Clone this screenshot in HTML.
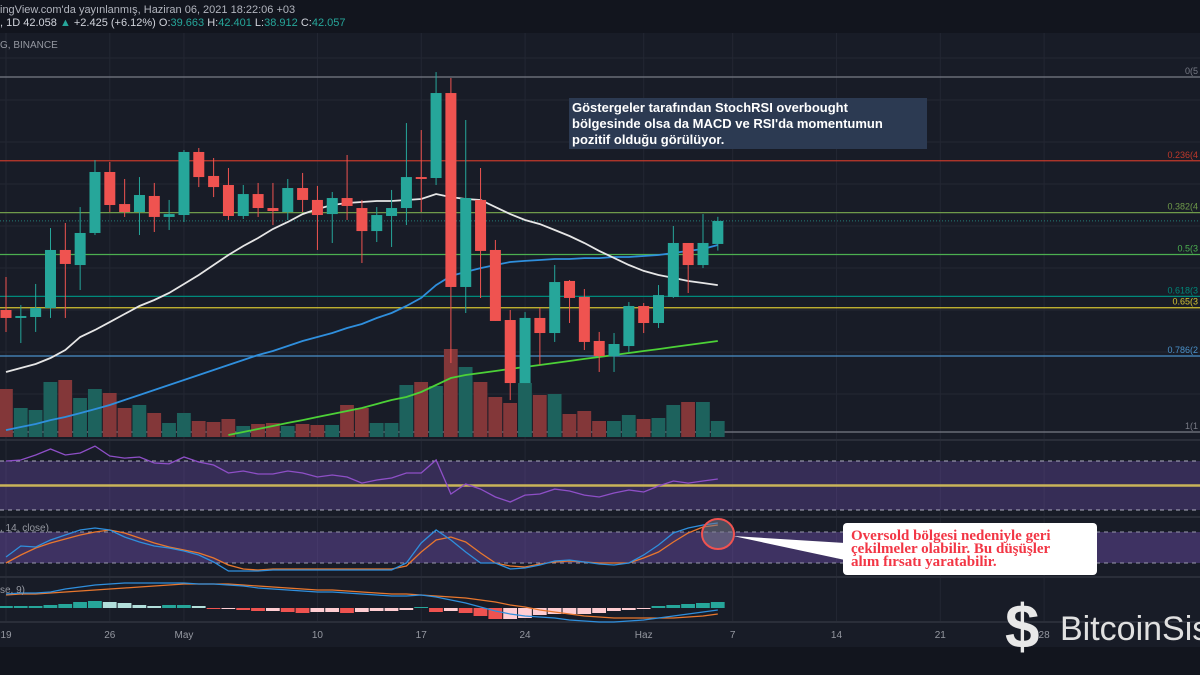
<!DOCTYPE html>
<html><head><meta charset="utf-8"><style>
html,body{margin:0;padding:0;background:#181c27;width:1200px;height:675px;overflow:hidden}
svg{display:block;font-family:"Liberation Sans",sans-serif}
</style></head><body>
<svg id="c" width="1200" height="675" viewBox="0 0 1200 675">
<rect x="0" y="0" width="1200" height="675" fill="#181c27"/>
<rect x="0" y="0" width="1200" height="33" fill="#12151e"/>
<rect x="0" y="647" width="1200" height="28" fill="#12151e"/>
<g id="grid"></g>
<g id="panels"></g>
<g id="fib"></g>
<g id="vol"></g>
<g id="ma"></g>
<g id="candles"></g>
<g id="ind"></g>
<g id="dates"></g>
<text x="0" y="13" fill="#b2b5be" font-size="11">ingView.com'da yayınlanmış, Haziran 06, 2021 18:22:06 +03</text>
<text x="0" y="26" fill="#d1d4dc" font-size="11">, 1D 42.058 <tspan fill="#26a69a">▲</tspan> +2.425 (+6.12%) O:<tspan fill="#26a69a">39.663</tspan> H:<tspan fill="#26a69a">42.401</tspan> L:<tspan fill="#26a69a">38.912</tspan> C:<tspan fill="#26a69a">42.057</tspan></text>
<text x="0" y="48" fill="#9598a1" font-size="10">G, BINANCE</text>
<text x="0" y="531" fill="#9598a1" font-size="10">, 14, close)</text>
<text x="0" y="593" fill="#9598a1" font-size="10">se, 9)</text>
<rect x="569" y="98" width="358" height="51" fill="#2c3a52"/>
<text fill="#ffffff" font-size="13" font-weight="bold"><tspan x="572" y="112">Göstergeler tarafından StochRSI overbought</tspan><tspan x="572" y="128">bölgesinde olsa da MACD ve RSI'da momentumun</tspan><tspan x="572" y="144">pozitif olduğu görülüyor.</tspan></text>
<polygon points="733,536 845,543 845,560" fill="#ffffff"/>
<ellipse cx="718" cy="534" rx="16" ry="15" fill="rgba(120,120,140,0.55)" stroke="#f05350" stroke-width="2"/>
<rect x="843" y="523" width="254" height="52" rx="4" fill="#ffffff"/>
<text fill="#f23645" font-size="15" font-weight="bold" font-family="Liberation Serif, serif"><tspan x="851" y="540">Oversold bölgesi nedeniyle geri</tspan><tspan x="851" y="553">çekilmeler olabilir. Bu düşüşler</tspan><tspan x="851" y="566">alım fırsatı yaratabilir.</tspan></text>
<g>
<text x="1005" y="648" fill="#e8e8e8" font-size="62" font-weight="bold">$</text>
<text x="1060" y="640" fill="#e0e0e0" font-size="34">BitcoinSis</text>
</g>
</svg>
<script>
const open_=[34.67,34.01,34.09,34.84,39.65,38.40,41.06,46.12,43.46,42.80,44.13,42.39,42.55,47.78,45.79,45.04,42.47,44.29,43.13,42.80,44.79,43.80,42.63,43.96,43.13,41.22,42.47,43.13,45.70,45.62,52.67,36.58,43.80,39.65,33.84,28.61,34.01,32.76,37.08,35.75,32.10,30.85,31.68,35.00,33.59,35.75,40.23,38.40,40.15];
const high_=[37.41,35.08,36.83,41.47,41.89,43.21,47.11,46.95,45.54,45.70,45.21,43.80,47.94,48.11,47.28,46.45,45.04,45.21,45.21,45.54,46.04,44.96,44.46,47.53,43.80,43.21,44.63,50.18,49.60,54.41,53.92,50.43,46.45,40.48,34.67,34.50,34.84,38.40,37.16,36.41,32.85,32.76,35.33,35.25,36.74,41.64,40.23,42.63,42.40];
const low_=[32.85,31.93,32.85,34.01,34.01,36.33,40.89,42.80,42.39,40.89,41.14,41.31,41.97,44.87,44.04,42.14,42.22,42.39,41.72,42.14,42.80,39.65,40.23,42.14,38.57,40.31,39.90,41.72,42.80,45.04,30.27,34.42,35.67,33.76,27.20,28.61,30.11,32.02,33.59,31.35,29.53,29.53,31.19,32.76,33.18,35.67,36.08,38.15,39.60];
const close_=[34.01,34.17,34.84,39.65,38.49,41.06,46.12,43.38,42.80,44.21,42.39,42.63,47.78,45.70,44.87,42.47,44.29,43.13,42.88,44.79,43.80,42.55,43.96,43.30,41.22,42.55,43.13,45.70,45.54,52.67,36.58,43.96,39.57,33.76,28.61,34.01,32.76,36.99,35.67,32.02,30.85,31.85,35.00,33.59,35.91,40.23,38.40,40.23,42.06];
const volume=[48,29,27,55,57,39,48,44,29,32,24,14,24,16,15,18,11,13,14,11,13,12,12,32,29,14,14,52,55,51,88,70,55,40,34,54,42,43,23,26,16,16,22,18,19,32,35,35,16];
const ma20=[29.53,29.86,30.19,30.69,31.35,32.43,33.01,33.67,34.34,35.00,35.50,36.08,36.83,37.57,38.40,39.23,39.98,40.64,41.39,41.97,42.63,43.05,43.38,43.55,43.63,43.71,43.71,43.80,43.88,44.29,44.04,43.88,43.80,43.21,42.63,42.14,41.80,41.31,40.81,40.23,39.57,38.99,38.40,37.91,37.57,37.33,37.08,36.91,36.74];
const ma50=[24.71,24.96,25.21,25.54,25.79,26.12,26.45,26.79,27.20,27.62,28.03,28.45,28.86,29.28,29.69,30.11,30.52,30.94,31.27,31.68,32.10,32.43,32.76,33.18,33.51,34.01,34.42,35.00,35.67,36.74,37.49,37.83,38.15,38.40,38.65,38.74,38.82,38.90,38.90,38.98,38.98,39.07,39.07,39.15,39.23,39.40,39.57,39.73,40.06];
const ma200=[null,null,null,null,null,null,null,null,null,null,null,null,null,null,null,24.30,24.55,24.80,25.05,25.30,25.54,25.79,26.04,26.29,26.54,26.87,27.20,27.45,27.87,28.45,29.03,29.28,29.44,29.61,29.78,29.94,30.11,30.27,30.44,30.61,30.77,30.94,31.10,31.27,31.43,31.60,31.77,31.93,32.10];
const rsi=[70,70.8,74.9,79.8,74.9,76.5,82.2,74.1,72.4,73.3,68.4,67.6,73.3,69.2,66.7,60.2,61.8,59.4,59.4,61.8,60.2,56.9,58.6,56.9,52.0,54.5,56.1,60.2,60.2,70.8,43.1,51.2,47.1,40.6,36.5,42.2,43.1,47.1,45.5,42.2,40.6,43.9,46.3,44.7,49.6,53.7,52.0,53.7,55.3];
const stochK=[31.6,52.9,51,64.5,74.2,83.9,87.7,83.9,70.3,60.7,52.9,49.1,43.3,35.5,22,4.6,4.6,4.6,6.5,6.5,6.5,6.5,6.5,6.5,6.5,6.5,6.5,20,58.7,83.9,64.5,41.3,20,20,8.4,10.4,16.2,23.9,25.8,22,18.1,16.2,20,35.5,54.9,78.1,87.7,93.5,97.4];
const stochD=[20,35.5,49.1,58.7,66.5,74.2,80,83.9,78.1,68.4,58.7,51,45.2,39.4,29.7,16.2,8.4,6.5,8.4,8.4,8.4,8.4,8.4,8.4,8.4,8.4,8.4,14.2,41.3,64.5,70.3,60.7,39.4,20,14.2,12.3,18.1,22,23.9,22,20,20,20,29.7,41.3,60.7,78.1,89.7,93.5];
const macdLine=[14,15,15,16,19,21,23,24,25,25,25,25,25,24,24,23,22,20,19,18,17,16,16,15,14,13,12,12,13,11,8,5,1,-3,-6,-8,-9,-10,-12,-13,-14,-14,-13,-12,-10,-8,-6,-4,-2];
const signalLine=[13,14,14,15,16,17,18,19,20,21,22,23,24,24,24,24,23,22,21,20,19,18,18,17,16,15,14,14,13,12,11,10,8,6,3,1,-2,-4,-6,-8,-9,-10,-10,-10,-10,-10,-9,-8,-6];
const macdHist=[2,2,2,3,4,6,7,6,5,3,2,3,3,2,-1,-1,-2,-3,-3,-4,-5,-4,-4,-5,-4,-3,-3,-2,1,-4,-3,-5,-8,-11,-11,-10,-7,-6,-6,-6,-5,-3,-2,-1,2,3,4,5,6];
const fibLevels=[0,0.236,0.382,0.5,0.618,0.65,0.786,1];
const fibLabels=["0(5","0.236(4","0.382(4","0.5(3","0.618(3","0.65(3","0.786(2","1(1"];
const dateIdx=[0,7,12,21,28,35,43,49,56,63,70];
const dateLabels=["19","26","May","10","17","24","Haz","7","14","21","28"];

const NS="http://www.w3.org/2000/svg";
function mk(tag,attrs,parent){const e=document.createElementNS(NS,tag);for(const k in attrs)e.setAttribute(k,attrs[k]);parent.appendChild(e);return e;}
const X=i=>6+14.83*i;
const Y=p=>77+(54-p)*12.054;
const fibHigh=54, fibLow=24.55;
const VY=v=>437-v;
const RY=v=>461+(70-v)*1.225;
const SY=v=>532+(80-v)*0.517;
const MY=v=>608-v;
const G=id=>document.getElementById(id);

const grid=G('grid');
[58,100,142,184,226,268,310,352,394].forEach(y=>{const l=mk('line',{x1:0,x2:1200,y1:y,y2:y,stroke:'#232733','stroke-width':1},grid);

});
dateIdx.forEach(i=>{const l=mk('line',{x1:X(i),x2:X(i),y1:33,y2:622,stroke:'#232733','stroke-width':1},grid);

});

const pn=G('panels');
[440,517,577,622].forEach(y=>{const l=mk('line',{x1:0,x2:1200,y1:y,y2:y,stroke:'#2a2e39','stroke-width':2},pn);

});
let r=mk('rect',{x:0,y:RY(70),width:1200,height:RY(30)-RY(70),fill:'rgba(126,87,194,0.3)'},pn);


[70,30].forEach(v=>{const l=mk('line',{x1:0,x2:1200,y1:RY(v),y2:RY(v),stroke:'#b0b0c0','stroke-dasharray':'4,4','stroke-width':1},pn);

});
let l50=mk('line',{x1:0,x2:1200,y1:RY(50),y2:RY(50),stroke:'#c9b458','stroke-width':2.5},pn);


r=mk('rect',{x:0,y:SY(80),width:1200,height:SY(20)-SY(80),fill:'rgba(126,87,194,0.38)'},pn);


[80,20].forEach(v=>{const l=mk('line',{x1:0,x2:1200,y1:SY(v),y2:SY(v),stroke:'#9a9aac','stroke-dasharray':'4,4','stroke-width':1},pn);

});

const fibColors=['#787b86','#c0392b','#6f9a4a','#4caf50','#00897b','#d4c332','#4a90c8','#787b86'];
const fb=G('fib');
fibLevels.forEach((f,k)=>{const p=fibHigh-(fibHigh-fibLow)*f;const y=Y(p);
const l=mk('line',{x1:0,x2:1200,y1:y,y2:y,stroke:fibColors[k],'stroke-width':1.3},fb);


const t=mk('text',{x:1198,y:y-3,'text-anchor':'end','font-size':9,fill:fibColors[k]},fb);t.textContent=fibLabels[k];

});
const pl=mk('line',{x1:0,x2:1200,y1:Y(close_[48]),y2:Y(close_[48]),stroke:'#26a69a','stroke-dasharray':'1,2','stroke-width':1,opacity:0.7},fb);



const vg=G('vol');
volume.forEach((v,i)=>{const up=close_[i]>=open_[i];
const b=mk('rect',{x:X(i)-7,y:VY(v),width:13.8,height:v,fill:up?'#1d625d':'#833739'},vg);

});

function linePath(arr,fx,fy){let d='';arr.forEach((v,i)=>{if(v==null)return;d+=(d?'L':'M')+fx(i).toFixed(1)+','+fy(v).toFixed(1);});return d;}
const mg=G('ma');
[[ma200,'#4cd137','ma-200'],[ma50,'#2f8fdd','ma-50'],[ma20,'#e6e6e6','ma-20']].forEach(([a,c,n])=>{
const p=mk('path',{d:linePath(a,X,Y),fill:'none',stroke:c,'stroke-width':1.8},mg);

});

const cg=G('candles');
open_.forEach((o,i)=>{const c=close_[i];const up=c>=o;const col=up?'#26a69a':'#ef5350';
const w=mk('line',{x1:X(i),x2:X(i),y1:Y(high_[i]),y2:Y(low_[i]),stroke:col,'stroke-width':1},cg);


const t=Y(Math.max(o,c)),b=Y(Math.min(o,c));
const bd=mk('rect',{x:X(i)-5.5,y:t,width:11,height:Math.max(1.5,b-t),fill:col},cg);

});

const ig=G('ind');
let p=mk('path',{d:linePath(rsi,X,RY),fill:'none',stroke:'#8e4fc7','stroke-width':1.3},ig);


p=mk('path',{d:linePath(stochD,X,SY),fill:'none',stroke:'#e8772e','stroke-width':1.3},ig);


p=mk('path',{d:linePath(stochK,X,SY),fill:'none',stroke:'#2f8fdd','stroke-width':1.3},ig);


macdHist.forEach((v,i)=>{const prev=i>0?macdHist[i-1]:0;const rising=v>=prev;
let col=v>=0?(rising?'#26a69a':'#b2dfdb'):(rising?'#ffcdd2':'#ef5350');
const y=Math.min(MY(v),MY(0));
const b=mk('rect',{x:X(i)-7,y:y,width:13.8,height:Math.max(1,Math.abs(v)),fill:col},ig);

});
p=mk('path',{d:linePath(signalLine,X,MY),fill:'none',stroke:'#e8772e','stroke-width':1.2},ig);


p=mk('path',{d:linePath(macdLine,X,MY),fill:'none',stroke:'#2f8fdd','stroke-width':1.2},ig);



const dg=G('dates');
dateIdx.forEach((i,k)=>{const t=mk('text',{x:X(i),y:638,'text-anchor':'middle','font-size':10,fill:'#9598a1'},dg);
t.textContent=dateLabels[k];

});
</script>
</body></html>
